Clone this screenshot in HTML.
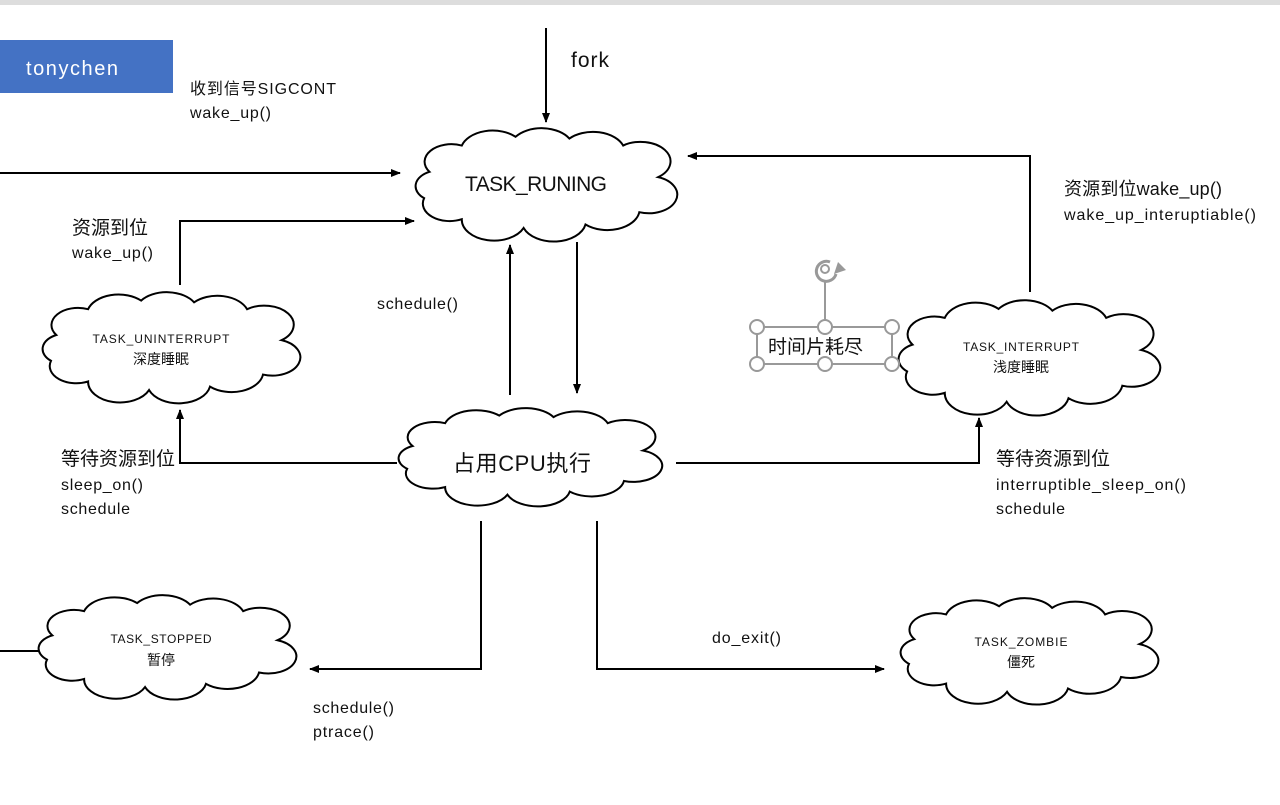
<!DOCTYPE html>
<html><head><meta charset="utf-8"><style>
body{margin:0;width:1280px;height:800px;background:#fff;overflow:hidden}
svg text{font-family:"Liberation Sans","Noto Sans CJK SC",sans-serif;fill:#111}
</style></head><body>
<svg width="1280" height="800" viewBox="0 0 1280 800" xmlns="http://www.w3.org/2000/svg">
<defs>
<marker id="a" markerWidth="10" markerHeight="10" refX="9" refY="5" orient="auto" markerUnits="userSpaceOnUse"><path d="M0,1 L10,5 L0,9 Z" fill="#000"/></marker>
<path id="cl" d="M10,25 A10,10 0 0 1 22,10 A12,12 0 0 1 42,5 A12,12 0 0 1 62,6 A12,12 0 0 1 82,10 A10,10 0 0 1 95,28 A10,10 0 0 1 88,48 A12,12 0 0 1 68,55 A12,12 0 0 1 45,57 A12,12 0 0 1 22,52 A10,10 0 0 1 8,40 A9,9 0 0 1 10,25 Z" fill="#fff" stroke="#000" stroke-width="2" vector-effect="non-scaling-stroke"/>
</defs>
<rect x="0" y="0" width="1280" height="5" fill="#ddd"/>
<rect x="0" y="40" width="173" height="53" fill="#4472c4"/>
<text x="26" y="75" font-size="20" style="fill:#fff" textLength="92">tonychen</text>
<g stroke="#000" stroke-width="2" fill="none">
<path d="M546,28 V122" marker-end="url(#a)"/>
<path d="M0,173 H400" marker-end="url(#a)"/>
<path d="M180,285 V221 H414" marker-end="url(#a)"/>
<path d="M510,395 V245" marker-end="url(#a)"/>
<path d="M577,242 V393" marker-end="url(#a)"/>
<path d="M1030,292 V156 H688" marker-end="url(#a)"/>
<path d="M397,463 H180 V410" marker-end="url(#a)"/>
<path d="M676,463 H979 V418" marker-end="url(#a)"/>
<path d="M481,521 V669 H310" marker-end="url(#a)"/>
<path d="M597,521 V669 H884" marker-end="url(#a)"/>
<path d="M0,651 H40"/>
</g>
<use href="#cl" transform="translate(402.6,128) scale(2.69,1.754)"/>
<use href="#cl" transform="translate(29.8,292) scale(2.65,1.72)"/>
<use href="#cl" transform="translate(885.6,300) scale(2.69,1.785)"/>
<use href="#cl" transform="translate(385.5,408) scale(2.71,1.52)"/>
<use href="#cl" transform="translate(25.8,595) scale(2.65,1.615)"/>
<use href="#cl" transform="translate(887.8,598) scale(2.65,1.646)"/>
<text x="536" y="191" font-size="21" text-anchor="middle" textLength="142">TASK_RUNING</text>
<text x="161" y="343" font-size="12" text-anchor="middle" textLength="137">TASK_UNINTERRUPT</text>
<text x="161" y="364" font-size="14" text-anchor="middle">深度睡眠</text>
<text x="1021" y="351" font-size="12" text-anchor="middle" textLength="116">TASK_INTERRUPT</text>
<text x="1021" y="372" font-size="14" text-anchor="middle">浅度睡眠</text>
<text x="522" y="471" font-size="22" text-anchor="middle" textLength="138">占用CPU执行</text>
<text x="161" y="643" font-size="12" text-anchor="middle" textLength="101">TASK_STOPPED</text>
<text x="161" y="665" font-size="14" text-anchor="middle">暂停</text>
<text x="1021" y="646" font-size="12" text-anchor="middle" textLength="93">TASK_ZOMBIE</text>
<text x="1021" y="667" font-size="14" text-anchor="middle">僵死</text>
<text x="571" y="67" font-size="21" textLength="38">fork</text>
<text x="190" y="94" font-size="16" textLength="146">收到信号SIGCONT</text>
<text x="190" y="118" font-size="16" textLength="81">wake_up()</text>
<text x="72" y="234" font-size="19">资源到位</text>
<text x="72" y="258" font-size="16" textLength="81">wake_up()</text>
<text x="377" y="309" font-size="16" textLength="81">schedule()</text>
<text x="1064" y="195" font-size="18" textLength="158">资源到位wake_up()</text>
<text x="1064" y="220" font-size="16" textLength="192">wake_up_interuptiable()</text>
<text x="61" y="465" font-size="19">等待资源到位</text>
<text x="61" y="490" font-size="16" textLength="82">sleep_on()</text>
<text x="61" y="514" font-size="16" textLength="69">schedule</text>
<text x="996" y="465" font-size="19">等待资源到位</text>
<text x="996" y="490" font-size="16" textLength="190">interruptible_sleep_on()</text>
<text x="996" y="514" font-size="16" textLength="69">schedule</text>
<text x="712" y="643" font-size="16" textLength="69">do_exit()</text>
<text x="313" y="713" font-size="16" textLength="81">schedule()</text>
<text x="313" y="737" font-size="16" textLength="61">ptrace()</text>
<g stroke="#999" stroke-width="2" fill="#fff">
<line x1="825" y1="282" x2="825" y2="327"/>
<rect x="757" y="327" width="135" height="37" fill="none"/>
<circle cx="757" cy="327" r="7"/><circle cx="825" cy="327" r="7"/><circle cx="892" cy="327" r="7"/>
<circle cx="757" cy="364" r="7"/><circle cx="825" cy="364" r="7"/><circle cx="892" cy="364" r="7"/>
<path d="M836,274 A10,10 0 1 1 830,262" fill="none" stroke-width="3"/>
<circle cx="825" cy="269" r="4" fill="none"/>
<path d="M838,262 L846,270 L834,274 Z" fill="#999" stroke="none"/>
</g>
<text x="768" y="353" font-size="19">时间片耗尽</text>
</svg>
</body></html>
